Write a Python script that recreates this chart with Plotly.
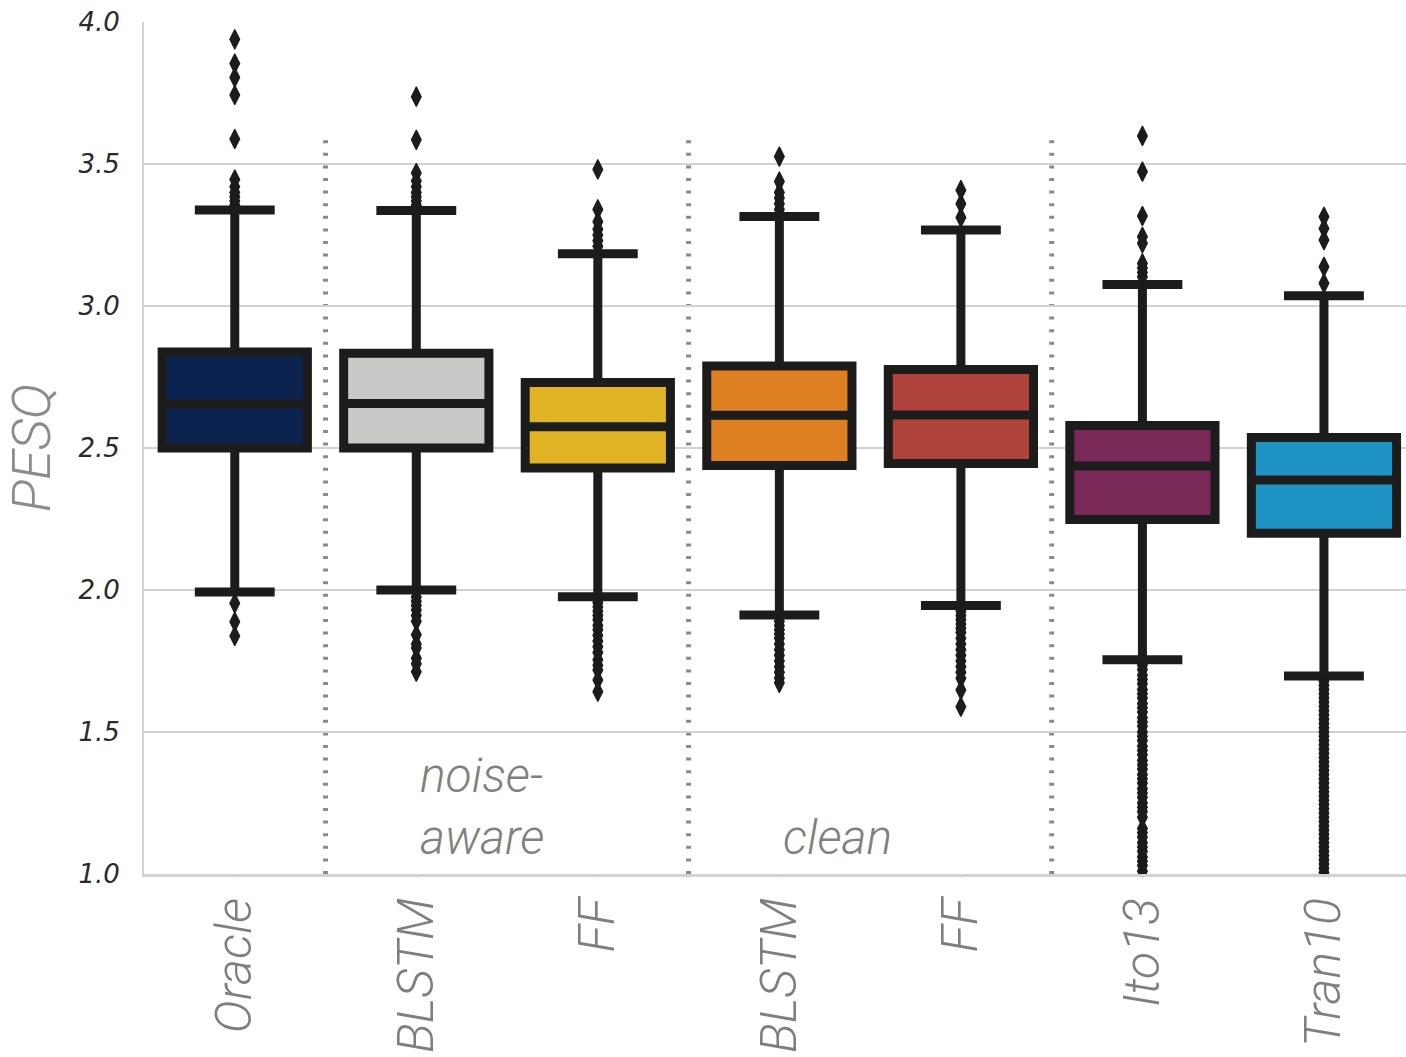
import plotly.graph_objects as go

# PESQ distributions per enhancement system
labels = ["Oracle", "BLSTM", "FF", "BLSTM", "FF", "Ito13", "Tran10"]
positions = [0, 1, 2, 3, 4, 5, 6]
fill_colors = ["#0c2350", "#c8c9c6", "#dfb323", "#de7f22", "#b0443c", "#7a2858", "#1e93c4"]

q1 = [2.500, 2.500, 2.430, 2.438, 2.445, 2.248, 2.200]
median = [2.655, 2.657, 2.575, 2.615, 2.616, 2.437, 2.387]
q3 = [2.838, 2.834, 2.731, 2.789, 2.776, 2.579, 2.537]
lower_whisker = [1.993, 2.000, 1.976, 1.912, 1.945, 1.754, 1.697]
upper_whisker = [3.338, 3.336, 3.184, 3.315, 3.268, 3.076, 3.036]

# fliers beyond the whiskers
outliers_oracle = [3.939, 3.854, 3.805, 3.743, 3.588, 3.445, 3.420, 3.400, 3.385,
                   3.370, 3.355, 1.953, 1.888, 1.838]
outliers_blstm_na = [3.737, 3.585, 3.468, 3.440, 3.420, 3.400, 3.385, 3.370, 3.355,
                     1.975, 1.960, 1.945, 1.930, 1.910, 1.890, 1.842, 1.810, 1.796,
                     1.760, 1.740, 1.712]
outliers_ff_na = [3.481, 3.340, 3.297, 3.270, 3.250, 3.230, 3.210,
                  1.955, 1.940, 1.925, 1.910, 1.895, 1.875, 1.860, 1.840, 1.820,
                  1.800, 1.780, 1.754, 1.735, 1.718, 1.683, 1.642]
outliers_blstm_clean = [3.526, 3.438, 3.400, 3.380, 3.360, 3.340,
                        1.890, 1.875, 1.860, 1.845, 1.830, 1.810, 1.790, 1.770,
                        1.750, 1.730, 1.710, 1.690, 1.673]
outliers_ff_clean = [3.408, 3.360, 3.312,
                     1.925, 1.910, 1.895, 1.880, 1.865, 1.850, 1.830, 1.810, 1.790,
                     1.770, 1.750, 1.730, 1.710, 1.689, 1.648, 1.589]
outliers_ito13 = [3.599, 3.473, 3.317, 3.244, 3.221, 3.150, 3.134, 3.118, 3.103,
                  1.735, 1.720, 1.700, 1.685, 1.670, 1.650, 1.635, 1.620, 1.600,
                  1.585, 1.570, 1.550, 1.535, 1.520, 1.500, 1.485, 1.470, 1.450,
                  1.435, 1.420, 1.400, 1.385, 1.370, 1.350, 1.335, 1.320, 1.300,
                  1.285, 1.270, 1.250, 1.235, 1.220, 1.200, 1.160, 1.145, 1.130,
                  1.110, 1.095, 1.080, 1.060, 1.045, 1.030, 1.010, 0.990, 0.970]
outliers_tran10 = [3.314, 3.273, 3.232, 3.138, 3.080,
                   1.680, 1.665, 1.650, 1.635, 1.620, 1.605, 1.590, 1.575, 1.560,
                   1.545, 1.530, 1.515, 1.500, 1.485, 1.470, 1.455, 1.440, 1.425,
                   1.410, 1.395, 1.380, 1.365, 1.350, 1.335, 1.320, 1.305, 1.290,
                   1.275, 1.260, 1.245, 1.230, 1.215, 1.200, 1.185, 1.170, 1.155,
                   1.140, 1.125, 1.110, 1.095, 1.080, 1.065, 1.050, 1.035, 1.020,
                   1.005, 0.990, 0.975]
outliers = [outliers_oracle, outliers_blstm_na, outliers_ff_na, outliers_blstm_clean,
            outliers_ff_clean, outliers_ito13, outliers_tran10]

# group separators and group names
separator_positions = [0.5, 2.5, 4.5]
separator_top = 3.585
group_names = [("noise-", 1, 1.347), ("aware", 1, 1.130), ("clean", 3, 1.130)]

y_ticks = [1.0, 1.5, 2.0, 2.5, 3.0, 3.5, 4.0]

EDGE = "#1c1c1c"
GRID = "#d2d2d2"
LABEL_FONT = "Roboto, 'Liberation Sans', sans-serif"

fig = go.Figure()

for i in range(len(labels)):
    fig.add_trace(go.Box(
        x=[positions[i]],
        q1=[q1[i]], median=[median[i]], q3=[q3[i]],
        lowerfence=[lower_whisker[i]], upperfence=[upper_whisker[i]],
        width=0.8,
        whiskerwidth=0.55,
        fillcolor=fill_colors[i],
        line=dict(color=EDGE, width=9),
        boxpoints=False,
        hoverinfo="skip",
        showlegend=False,
    ))

for i in range(len(labels)):
    fig.add_trace(go.Scatter(
        x=[positions[i]] * len(outliers[i]),
        y=outliers[i],
        mode="markers",
        marker=dict(symbol="diamond-tall", size=14, color=EDGE,
                    line=dict(color=EDGE, width=1.2)),
        hoverinfo="skip",
        showlegend=False,
    ))

for xs in separator_positions:
    fig.add_shape(type="line", xref="x", yref="y",
                  x0=xs, x1=xs, y0=1.0, y1=separator_top,
                  line=dict(color="#8a8a8a", width=5, dash="3px,9.6px"),
                  layer="below")

for text, xpos, ypos in group_names:
    fig.add_annotation(x=xpos, y=ypos, xref="x", yref="y", text=text,
                       showarrow=False, xanchor="left", yanchor="middle", xshift=2,
                       font=dict(family=LABEL_FONT, size=48, color="#808080",
                                 style="italic", weight=300))

fig.update_layout(
    width=1406, height=1057,
    margin=dict(l=144, r=0, t=22, b=183),
    paper_bgcolor="white", plot_bgcolor="white",
    xaxis=dict(
        range=[-0.5, 6.452],
        tickmode="array", tickvals=positions, ticktext=labels,
        tickangle=-90,
        tickfont=dict(family=LABEL_FONT, size=50, color="#7f7f7f",
                      style="italic", weight=300),
        showgrid=False, zeroline=False,
        showline=True, linecolor=GRID, linewidth=3,
        ticks="outside", ticklen=1, tickcolor=GRID, tickwidth=1,
        automargin=False,
    ),
    yaxis=dict(
        range=[1.0, 4.0],
        tickmode="array", tickvals=y_ticks,
        ticktext=[f"{v:.1f}" for v in y_ticks],
        tickfont=dict(family="'DejaVu Sans', sans-serif", size=26, color="#2a2a2a",
                      style="italic", weight=300),
        showgrid=True, gridcolor=GRID, gridwidth=2,
        zeroline=False,
        showline=True, linecolor=GRID, linewidth=2,
        ticks="", ticklabelstandoff=17,
        automargin=False,
        title=dict(text="PESQ", standoff=11,
                   font=dict(family=LABEL_FONT, size=54, color="#8c8c8c",
                             style="italic", weight=300)),
    ),
)

fig.write_html("out.html")
